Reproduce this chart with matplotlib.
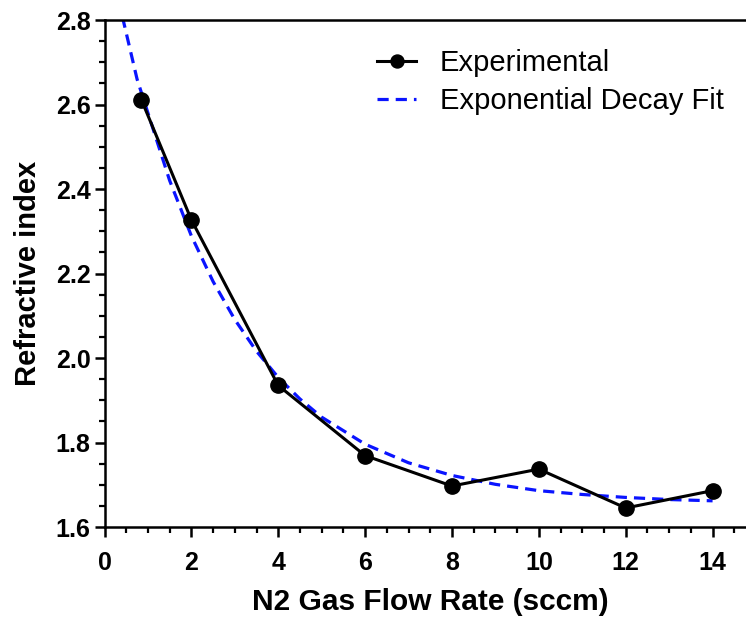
import matplotlib
matplotlib.use("Agg")
import matplotlib.pyplot as plt
from matplotlib.ticker import MultipleLocator

# measured refractive index vs N2 flow
flow_rate = [0.85, 2, 4, 6, 8, 10, 12, 14]
refr_index = [2.611, 2.327, 1.935, 1.769, 1.697, 1.737, 1.645, 1.686]

# exponential decay fit
fit_x = [0.3, 0.43, 0.75, 1.0, 1.5, 2.0, 2.5, 3.0, 3.5, 4.0, 4.5, 5.0, 6.0, 7.0,
         8.0, 9.0, 10.0, 11.0, 12.0, 13.0, 14.0]
fit_y = [2.86, 2.80, 2.66, 2.58, 2.42, 2.289, 2.181, 2.091, 2.016, 1.954, 1.903,
         1.860, 1.796, 1.752, 1.722, 1.701, 1.686, 1.677, 1.670, 1.665, 1.662]

y_ticks = [1.6, 1.8, 2.0, 2.2, 2.4, 2.6, 2.8]
y_ticklabels = ['1.6', '1.8', '2.0', '2.2', '2.4', '2.6', '2.8']

plt.rcParams['font.family'] = ['Liberation Sans', 'DejaVu Sans']

fig = plt.figure(figsize=(7.46, 6.19), dpi=100)
ax = fig.add_axes([104.5 / 746, 92 / 619, 651.5 / 746, 507 / 619])

ax.plot(flow_rate, refr_index, color='black', lw=2.2, marker='o', ms=11,
        label='Experimental', zorder=3)
ax.plot(fit_x, fit_y, color='#0a14ff', lw=2.3, ls=(0, (3.5, 2.2)),
        label='Exponential Decay Fit', zorder=2)

ax.set_xlim(0, 15)
ax.set_ylim(1.6, 2.8)
ax.xaxis.set_major_locator(MultipleLocator(2))
ax.xaxis.set_minor_locator(MultipleLocator(0.5))
ax.yaxis.set_minor_locator(MultipleLocator(0.05))
ax.set_yticks(y_ticks)
ax.set_yticklabels(y_ticklabels)

for s in ['left', 'bottom', 'top']:
    ax.spines[s].set_linewidth(1.8)
ax.spines['right'].set_visible(False)

ax.tick_params(which='major', length=7, width=1.8, direction='out', labelsize=18)
ax.tick_params(which='minor', length=4.5, width=1.6, direction='out')
ax.tick_params(axis='x', which='major', pad=10)
ax.tick_params(axis='y', which='major', pad=3)
for lab in ax.get_xticklabels() + ax.get_yticklabels():
    lab.set_fontweight('bold')

ax.set_xlabel('N2 Gas Flow Rate (sccm)', fontsize=21.5, fontweight='bold', labelpad=10)
ax.set_ylabel('Refractive index', fontsize=21, fontweight='bold', labelpad=10)

leg = ax.legend(loc='upper left', bbox_to_anchor=(0.378, 0.995), frameon=False,
                fontsize=21, handlelength=1.35, handletextpad=0.8,
                labelspacing=0.35, markerscale=0.85)

fig.savefig('out.png', dpi=100)
